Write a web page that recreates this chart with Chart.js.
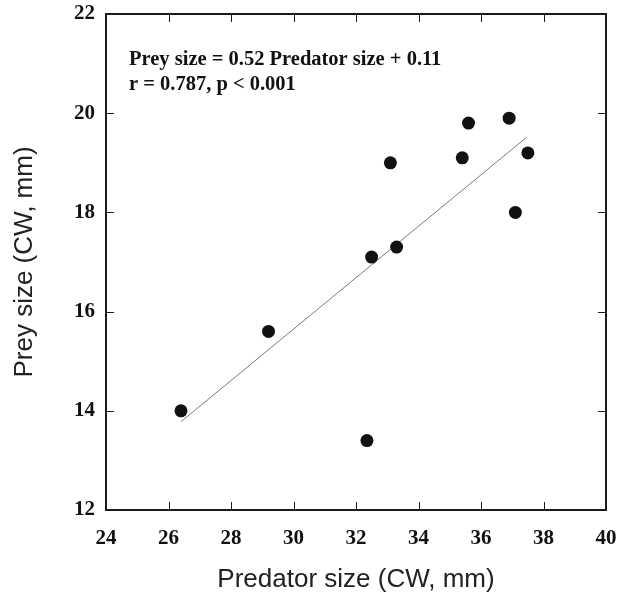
<!DOCTYPE html>
<html lang="en">
<head>
    <meta charset="UTF-8">
    <title>Prey size vs Predator size</title>
    <script src="https://cdn.jsdelivr.net/npm/chart.js"></script>
    <style>
        body {
            margin: 0;
            background: #fff;
        }
        canvas {
            display: block;
        }
    </style>
</head>
<body>
    <canvas id="sizeChart" width="620" height="595"></canvas>

    <script>
        // values (CW, mm)
        const predatorSize = [26.4, 29.2, 32.35, 32.5, 33.3, 33.1, 35.4, 35.6, 36.9, 37.5, 37.1];
        const preySize = [14.0, 15.6, 13.4, 17.1, 17.3, 19.0, 19.1, 19.8, 19.9, 19.2, 18.0];

        // ends of the fitted line
        const fitX = [26.4, 37.45];
        const fitY = [13.78, 19.51];

        const xTicks = [24, 26, 28, 30, 32, 34, 36, 38, 40];
        const yTicks = [12, 14, 16, 18, 20, 22];

        const equationLines = [
            'Prey size = 0.52 Predator size + 0.11',
            'r = 0.787, p < 0.001'
        ];

        const serif = '"Liberation Serif", "Times New Roman", serif';
        const sans = '"Liberation Sans", Arial, sans-serif';

        // frame + inward tick marks on all four sides, plus the equation text
        const framePlugin = {
            id: 'frame',
            afterDraw(chart) {
                const ctx = chart.ctx;
                const area = chart.chartArea;
                const xs = chart.scales.x;
                const ys = chart.scales.y;
                const tick = 8;

                ctx.save();
                ctx.strokeStyle = '#1a1a1a';
                ctx.lineWidth = 1;
                ctx.beginPath();
                xTicks.forEach(v => {
                    const px = Math.round(xs.getPixelForValue(v)) + 0.5;
                    ctx.moveTo(px, area.bottom);
                    ctx.lineTo(px, area.bottom - tick);
                    ctx.moveTo(px, area.top);
                    ctx.lineTo(px, area.top + tick);
                });
                yTicks.forEach(v => {
                    const py = Math.round(ys.getPixelForValue(v)) + 0.5;
                    ctx.moveTo(area.left, py);
                    ctx.lineTo(area.left + tick, py);
                    ctx.moveTo(area.right, py);
                    ctx.lineTo(area.right - tick, py);
                });
                ctx.stroke();

                ctx.lineWidth = 2;
                ctx.strokeRect(area.left, area.top, area.right - area.left, area.bottom - area.top);

                ctx.fillStyle = '#111';
                ctx.font = 'bold 20.5px ' + serif;
                ctx.textBaseline = 'alphabetic';
                ctx.textAlign = 'left';
                equationLines.forEach((line, i) => {
                    ctx.fillText(line, area.left + 23, area.top + 51 + i * 25);
                });
                ctx.restore();
            }
        };

        const ctx = document.getElementById('sizeChart').getContext('2d');
        new Chart(ctx, {
            type: 'scatter',
            data: {
                datasets: [
                    {
                        label: 'Observations',
                        data: predatorSize.map((x, i) => ({ x: x, y: preySize[i] })),
                        pointRadius: 6.5,
                        pointBackgroundColor: '#111',
                        pointBorderWidth: 0,
                        order: 1
                    },
                    {
                        type: 'line',
                        label: 'Fit',
                        data: fitX.map((x, i) => ({ x: x, y: fitY[i] })),
                        borderColor: '#7a7a7a',
                        borderWidth: 1,
                        pointRadius: 0,
                        fill: false,
                        order: 2
                    }
                ]
            },
            options: {
                responsive: false,
                animation: false,
                layout: {
                    padding: { top: 14, right: 14, left: 0, bottom: 0 }
                },
                plugins: {
                    legend: { display: false },
                    tooltip: { enabled: false }
                },
                scales: {
                    x: {
                        type: 'linear',
                        min: 24,
                        max: 40,
                        afterBuildTicks: scale => { scale.ticks = xTicks.map(v => ({ value: v })); },
                        afterFit: scale => {
                            scale.height = 85;
                            scale.paddingLeft = 0;
                            scale.paddingRight = 0;
                        },
                        grid: { display: false, drawTicks: false },
                        border: { display: false },
                        ticks: {
                            color: '#111',
                            font: { family: serif, size: 21, weight: 'bold' },
                            padding: 16,
                            maxRotation: 0
                        },
                        title: {
                            display: true,
                            text: 'Predator size (CW, mm)',
                            color: '#222',
                            font: { family: sans, size: 26 },
                            padding: { top: 1, bottom: 0 }
                        }
                    },
                    y: {
                        type: 'linear',
                        min: 12,
                        max: 22,
                        afterBuildTicks: scale => { scale.ticks = yTicks.map(v => ({ value: v })); },
                        afterFit: scale => {
                            scale.width = 106;
                            scale.paddingTop = 0;
                            scale.paddingBottom = 0;
                        },
                        grid: { display: false, drawTicks: false },
                        border: { display: false },
                        ticks: {
                            color: '#111',
                            font: { family: serif, size: 21, weight: 'bold' },
                            padding: 11
                        },
                        title: {
                            display: true,
                            text: 'Prey size (CW, mm)',
                            color: '#222',
                            font: { family: sans, size: 26 },
                            padding: { top: 9, bottom: 0 }
                        }
                    }
                }
            },
            plugins: [framePlugin]
        });
    </script>
</body>
</html>
